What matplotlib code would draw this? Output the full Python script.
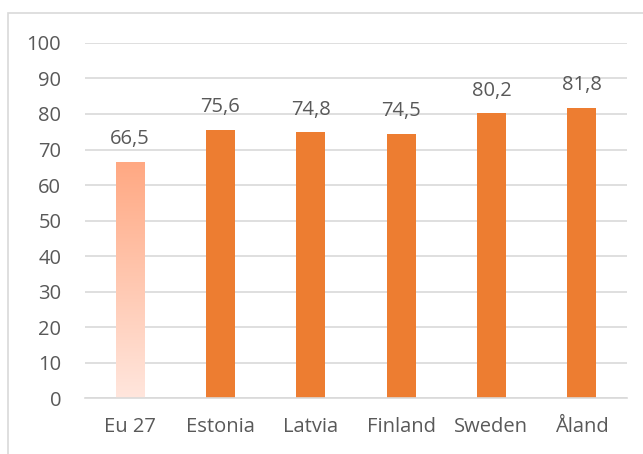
import matplotlib.pyplot as plt
import numpy as np
from matplotlib.colors import LinearSegmentedColormap
from matplotlib.patches import Rectangle

CATEGORIES = ["Eu 27", "Estonia", "Latvia", "Finland", "Sweden", "Åland"]
VALUES = [66.5, 75.6, 74.8, 74.5, 80.2, 81.8]
VALUE_LABELS = ["66,5", "75,6", "74,8", "74,5", "80,2", "81,8"]

ORANGE = "#ED7D31"
TEXT = "#595959"
GRID = "#D9D9D9"

plt.rcParams["font.family"] = ["Open Sans", "DejaVu Sans"]

fig = plt.figure(figsize=(6.43, 4.54), dpi=100)
ax = fig.add_axes([0.132, 0.1233, 0.843, 0.782])

x = np.arange(len(CATEGORIES))
bars = ax.bar(x, VALUES, width=0.32, color=ORANGE, zorder=2)

# first bar gets a light-to-salmon vertical gradient instead of flat fill
first = bars[0]
first.set_facecolor("none")
grad_cmap = LinearSegmentedColormap.from_list("salmon", ["#FFE6DD", "#FFA882"])
grad = np.linspace(0, 1, 256).reshape(-1, 1)
img = ax.imshow(
    grad,
    cmap=grad_cmap,
    origin="lower",
    aspect="auto",
    extent=[first.get_x(), first.get_x() + first.get_width(), 0, first.get_height()],
    zorder=2,
)
img.set_clip_path(first)

for bar, label in zip(bars, VALUE_LABELS):
    ax.annotate(
        label,
        (bar.get_x() + bar.get_width() / 2, bar.get_height()),
        xytext=(0, 9),
        textcoords="offset points",
        ha="center",
        va="bottom",
        fontsize=14.5,
        color=TEXT,
    )

ax.set_xlim(-0.5, len(CATEGORIES) - 0.5)
ax.set_ylim(0, 100)
ax.set_yticks(range(0, 101, 10))
ax.set_xticks(x)
ax.set_xticklabels(CATEGORIES)
ax.tick_params(axis="both", length=0, labelsize=14.5, labelcolor=TEXT)
ax.tick_params(axis="y", pad=17)
ax.tick_params(axis="x", pad=14)
ax.grid(axis="y", color=GRID, linewidth=1.2)
ax.set_axisbelow(True)
for side in ("top", "right", "left"):
    ax.spines[side].set_visible(False)
ax.spines["bottom"].set_color(GRID)
ax.spines["bottom"].set_linewidth(1.2)

# chart-area frame, running off the right and bottom edges
fig.patches.append(
    Rectangle(
        (8 / 643, -0.2), 1.2, 1.2 - 13 / 454,
        transform=fig.transFigure, fill=False, edgecolor=GRID, linewidth=1.2,
    )
)

fig.savefig("out.png", dpi=100)
